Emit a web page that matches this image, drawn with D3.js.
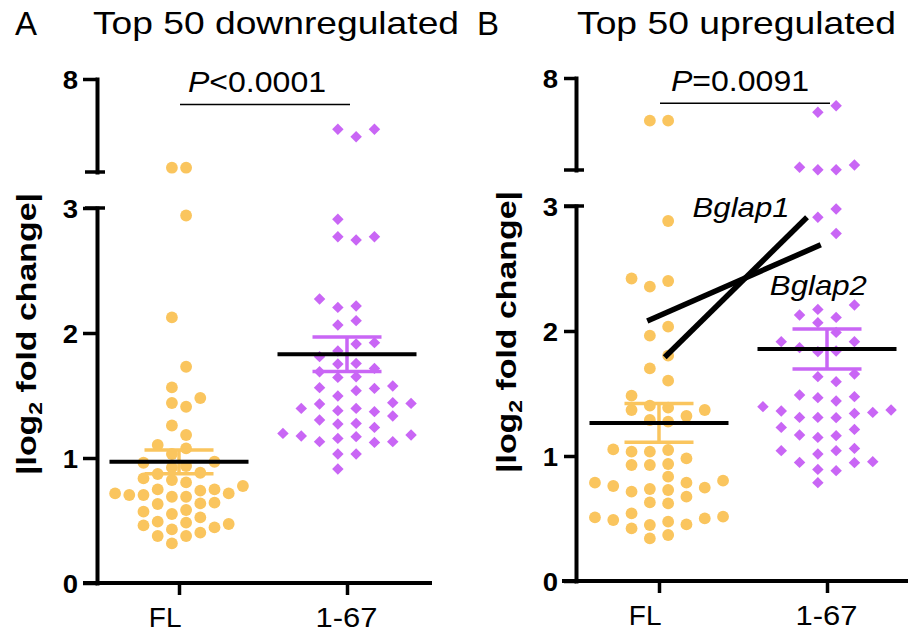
<!DOCTYPE html>
<html><head><meta charset="utf-8">
<script src="https://cdn.jsdelivr.net/npm/d3@7"></script>
<style>body{margin:0;background:#fff}svg{display:block}</style>
</head><body>
<svg id="chart" width="908" height="634"></svg>
<script>
// ---------------- DATA ----------------
const categories = ["FL", "1-67"];
const panelLetters = ["A", "B"];
const panelTitles = ["Top 50 downregulated", "Top 50 upregulated"];
const pLabels = ["<0.0001", "=0.0091"];
const yTicksLower = [0, 1, 2, 3];
const yTicksUpper = [8];
const axisBreak = [3, 8];          // upper segment of the broken axis
const yLabel = "fold change|";

// Top 50 downregulated
const downFL = [3.23, 3.23, 2.94, 2.125, 1.73, 1.565, 1.48, 1.44, 1.41, 1.26,
  1.184, 1.104, 1.077, 1.032, 0.97, 0.962, 0.936, 0.925, 0.882, 0.872,
  0.837, 0.824, 0.805, 0.776, 0.749, 0.749, 0.739, 0.717, 0.717, 0.704,
  0.704, 0.69, 0.69, 0.643, 0.637, 0.632, 0.584, 0.571, 0.552, 0.525,
  0.491, 0.483, 0.472, 0.461, 0.445, 0.429, 0.403, 0.376, 0.376, 0.317];
const down167 = [5.3, 5.3, 4.9, 2.91, 2.77, 2.77, 2.744, 2.272, 2.216, 2.205,
  2.099, 2.064, 1.923, 1.912, 1.856, 1.811, 1.757, 1.752, 1.717, 1.69,
  1.65, 1.645, 1.576, 1.563, 1.557, 1.539, 1.496, 1.443, 1.437, 1.432,
  1.397, 1.397, 1.379, 1.371, 1.336, 1.304, 1.277, 1.272, 1.245, 1.197,
  1.184, 1.176, 1.171, 1.157, 1.131, 1.131, 1.125, 1.032, 1.032, 0.912];
// Top 50 upregulated
const upFL = [5.68, 5.68, 2.88, 2.42, 2.40, 2.355, 2.035, 1.963, 1.803, 1.701,
  1.603, 1.483, 1.403, 1.387, 1.368, 1.368, 1.32, 1.288, 1.275, 1.053,
  1.048, 1.035, 1.035, 0.981, 0.936, 0.928, 0.928, 0.835, 0.803, 0.787,
  0.787, 0.76, 0.747, 0.736, 0.728, 0.715, 0.675, 0.629, 0.621, 0.541,
  0.515, 0.509, 0.501, 0.488, 0.475, 0.453, 0.448, 0.421, 0.368, 0.341];
const up167 = [6.49, 6.14, 3.27, 3.15, 3.01, 3.01, 2.976, 2.91, 2.78, 2.208,
  2.173, 2.128, 2.109, 2.067, 1.989, 1.915, 1.915, 1.867, 1.84, 1.835,
  1.656, 1.635, 1.595, 1.488, 1.475, 1.467, 1.44, 1.395, 1.368, 1.36,
  1.349, 1.341, 1.309, 1.309, 1.307, 1.229, 1.213, 1.168, 1.163, 1.149,
  1.061, 1.043, 1.043, 1.016, 0.955, 0.949, 0.947, 0.893, 0.883, 0.787];

// Bglap genes (panel B): value in FL and in 1-67, and where along FL(0)->1-67(1) the segment runs
const geneNames = ["Bglap1", "Bglap2"];
const geneFL = [1.79, 2.08];
const gene167 = [2.91, 2.69];
const geneFromT = [0.034, -0.07];
const geneToT = [0.881, 0.963];
const geneLabelT = [0.2, 0.66];
const geneLabelV = [2.914, 2.288];

// ---------------- LAYOUT / STYLE ----------------
const FONT = "'Liberation Sans', Arial, Helvetica, sans-serif";
const seriesColors = ["#FAC55E", "#C966F5"];
const panels = [
  { letter: panelLetters[0], title: panelTitles[0], p: pLabels[0], series: [downFL, down167],
    ax: 97, y0: 583, y3: 208, yb: 172, y8: 79, xr: 432, xs: [179, 347], spacing: [14.2, 18.3],
    tick: 14, pad: 5, letterX: 15, titleX: 93, titleLen: 366, labelX: 36, labelCY: 334, pShift: -6 },
  { letter: panelLetters[1], title: panelTitles[1], p: pLabels[1], series: [upFL, up167],
    ax: 576, y0: 581, y3: 206, yb: 170, y8: 78, xr: 908, xs: [659, 827], spacing: [18.3, 18.3],
    tick: 12, pad: 6, letterX: 477, titleX: 577, titleLen: 319, labelX: 516, labelCY: 332, pShift: -3 }
];

const svg = d3.select("#chart");

function swarm(vals, yf, cx, spacing, minSep) {
  const pts = vals.map(v => ({ v, y: yf(v) })).sort((a, b) => b.y - a.y);
  const cols = new Map();
  pts.forEach((p, i) => {
    for (let k = 0; k < 60; k++) {
      const side = ((k % 2 === 0) === (i % 2 === 0)) ? -1 : 1;
      const slot = side * (Math.floor(k / 2) + 0.5);
      const arr = cols.get(slot) || [];
      if (arr.every(q => Math.abs(q - p.y) >= minSep)) {
        arr.push(p.y); cols.set(slot, arr); p.x = cx + slot * spacing; break;
      }
    }
  });
  return pts;
}

panels.forEach((P, pi) => {
  const g = svg.append("g");
  const yLow = d3.scaleLinear().domain([0, axisBreak[0]]).range([P.y0, P.y3]);
  const yHigh = d3.scaleLinear().domain(axisBreak).range([P.yb, P.y8]);
  const y = v => v > axisBreak[0] ? yHigh(v) : yLow(v);
  const x = d3.scalePoint().domain(categories).range(P.xs);
  const xt = d3.scaleLinear().domain([0, 1]).range(P.xs);

  // ---- titles
  g.append("text").attr("x", P.letterX).attr("y", 35).attr("font-family", FONT)
    .attr("font-size", 33).text(P.letter);
  g.append("text").attr("x", P.titleX).attr("y", 34).attr("font-family", FONT)
    .attr("font-size", 32).attr("textLength", P.titleLen).attr("lengthAdjust", "spacingAndGlyphs")
    .text(P.title);

  // ---- y axis (broken)
  const fmt = d3.format("d");
  const sx = 1.1;
  const axLow = g.append("g").attr("transform", `translate(${P.ax},0)`)
    .call(d3.axisLeft(yLow).tickValues(yTicksLower).tickFormat(fmt).tickSize(P.tick).tickSizeOuter(0));
  const axHigh = g.append("g").attr("transform", `translate(${P.ax},0)`)
    .call(d3.axisLeft(yHigh).tickValues(yTicksUpper).tickFormat(fmt).tickSize(P.tick).tickSizeOuter(0));
  [axLow, axHigh].forEach(a => {
    a.select(".domain").attr("stroke", "#000").attr("stroke-width", 4).attr("stroke-linecap", "square");
    a.selectAll(".tick line").attr("stroke", "#000").attr("stroke-width", 3.5);
    a.selectAll(".tick text").attr("font-family", FONT).attr("font-size", 25).attr("font-weight", "bold")
      .attr("fill", "#000").attr("x", -(P.tick + P.pad) / sx).attr("dy", "0.36em")
      .attr("transform", `scale(${sx},1)`);
  });
  // segment end caps at the break
  [yLow(axisBreak[0]), yHigh(axisBreak[0])].forEach(yy => {
    g.append("line").attr("x1", P.ax - 12).attr("x2", P.ax + 8).attr("y1", yy).attr("y2", yy)
      .attr("stroke", "#000").attr("stroke-width", 3.5);
  });

  // ---- x axis
  g.append("line").attr("x1", P.ax - 14).attr("x2", P.xr).attr("y1", P.y0).attr("y2", P.y0)
    .attr("stroke", "#000").attr("stroke-width", 4);
  const axX = g.append("g").attr("transform", `translate(0,${P.y0})`)
    .call(d3.axisBottom(x).tickSize(12).tickSizeOuter(0));
  axX.select(".domain").remove();
  axX.selectAll(".tick line").attr("stroke", "#000").attr("stroke-width", 3.5);
  axX.selectAll(".tick text").attr("font-family", FONT).attr("font-size", 28).attr("fill", "#000")
    .attr("y", 44).attr("dy", 0)
    .each(function (d) {
      const t = d3.select(this);
      if (d === categories[0]) t.attr("text-anchor", "end").attr("x", 2);
      else t.attr("x", -1).attr("textLength", 62).attr("lengthAdjust", "spacingAndGlyphs");
    });

  // ---- y label
  const lab = g.append("text").attr("transform", `translate(${P.labelX},${P.labelCY}) rotate(-90)`)
    .attr("text-anchor", "middle").attr("font-family", FONT).attr("font-size", 28)
    .attr("font-weight", "bold").attr("textLength", 282).attr("lengthAdjust", "spacingAndGlyphs");
  lab.append("tspan").text("|log");
  lab.append("tspan").attr("font-size", 19).attr("dy", 6).text("2");
  lab.append("tspan").attr("dy", -6).text("\u00a0" + yLabel);

  // ---- points
  P.series.forEach((vals, si) => {
    const pts = swarm(vals, y, x(categories[si]), P.spacing[si], si === 0 ? 12.5 : 13);
    const col = seriesColors[si];
    if (si === 0) {
      g.append("g").selectAll("circle").data(pts).join("circle")
        .attr("cx", d => d.x).attr("cy", d => d.y).attr("r", 5.9).attr("fill", col);
    } else {
      const sym = d3.symbol(d3.symbolSquare, 66);
      g.append("g").selectAll("path").data(pts).join("path")
        .attr("d", sym).attr("transform", d => `translate(${d.x},${d.y}) rotate(45)`).attr("fill", col);
    }
  });

  // ---- mean + SEM
  P.series.forEach((vals, si) => {
    const m = d3.mean(vals);
    const sem = d3.deviation(vals) / Math.sqrt(vals.length);
    const cx = x(categories[si]);
    const col = seriesColors[si];
    const eb = g.append("g").attr("stroke", col).attr("stroke-width", 3.5);
    eb.append("line").attr("x1", cx).attr("x2", cx).attr("y1", y(m - sem)).attr("y2", y(m + sem));
    [m - sem, m + sem].forEach(v => eb.append("line").attr("x1", cx - 34.5).attr("x2", cx + 34.5)
      .attr("y1", y(v)).attr("y2", y(v)));
    g.append("line").attr("x1", cx - 69.5).attr("x2", cx + 69.5).attr("y1", y(m)).attr("y2", y(m))
      .attr("stroke", "#000").attr("stroke-width", 4);
  });

  // ---- significance bar
  const xm = (x(categories[0]) + x(categories[1])) / 2;
  g.append("line").attr("x1", x(categories[0]) + 1).attr("x2", x(categories[1]) + 3)
    .attr("y1", yHigh(6.63)).attr("y2", yHigh(6.63)).attr("stroke", "#000").attr("stroke-width", 1.6);
  const pt = g.append("text").attr("x", xm + P.pShift).attr("y", yHigh(7.32)).attr("text-anchor", "middle")
    .attr("font-family", FONT).attr("font-size", 30).attr("textLength", 138).attr("lengthAdjust", "spacingAndGlyphs");
  pt.append("tspan").attr("font-style", "italic").text("P");
  pt.append("tspan").text(P.p);

  // ---- gene lines (panel B)
  if (pi === 1) {
    geneNames.forEach((name, gi) => {
      g.append("line").attr("x1", xt(geneFromT[gi])).attr("x2", xt(geneToT[gi]))
        .attr("y1", y(geneFL[gi])).attr("y2", y(gene167[gi]))
        .attr("stroke", "#000").attr("stroke-width", 5.5);
      g.append("text").attr("x", xt(geneLabelT[gi])).attr("y", y(geneLabelV[gi]))
        .attr("font-family", FONT).attr("font-size", 28).attr("font-style", "italic")
        .attr("textLength", 97).attr("lengthAdjust", "spacingAndGlyphs").text(name);
    });
  }
});
</script>
</body></html>
